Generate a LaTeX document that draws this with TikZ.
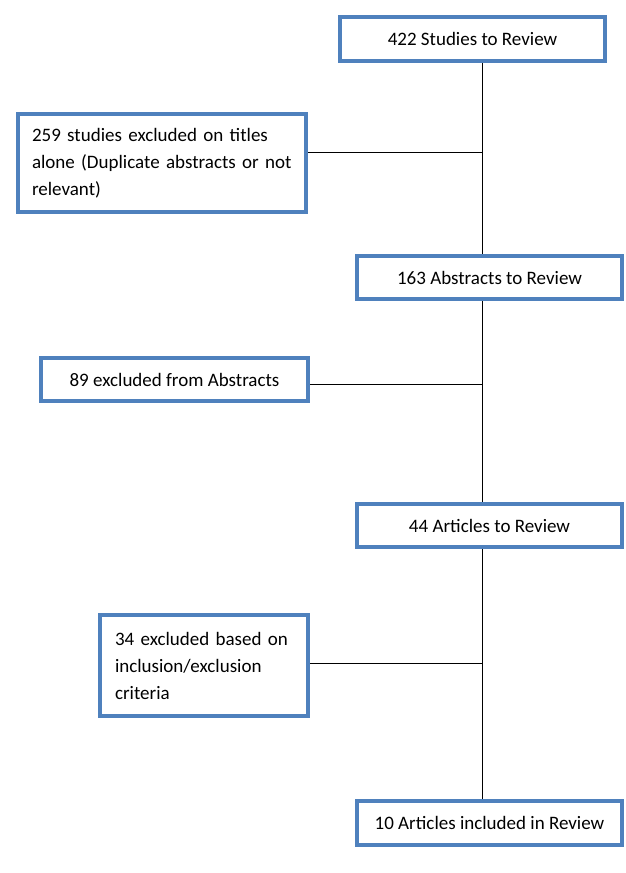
\documentclass[tikz,border=0pt]{standalone}
\usepackage{fontspec}
\setmainfont{Carlito}
\definecolor{boxblue}{HTML}{4F81BD}
\begin{document}
\begin{tikzpicture}[x=1pt,y=-1pt,
  flowbox/.style={draw=boxblue,line width=4pt,fill=white,rectangle,inner sep=0pt,
    font=\fontsize{19}{27}\selectfont},
  multibox/.style={flowbox,align=left},
  link/.style={draw=black,line width=1pt}]
\useasboundingbox (0,0) rectangle (625,873);
\coordinate (sp) at (482,0);
\node[flowbox,minimum width=265pt,minimum height=44pt] (top) at (472.5,39) {422 Studies to Review};
\node[multibox,minimum width=288pt,minimum height=98pt,text width=260pt] (b259) at (162,163) {259 studies excluded on titles\\alone (Duplicate abstracts or not\\relevant)};
\node[flowbox,minimum width=265pt,minimum height=43pt] (b163) at (489.5,277.5) {163 Abstracts to Review};
\node[flowbox,minimum width=267pt,minimum height=43pt] (b89) at (174.5,379.5) {89 excluded from Abstracts};
\node[flowbox,minimum width=265pt,minimum height=43pt] (b44) at (489.5,525.5) {44 Articles to Review};
\node[multibox,minimum width=208pt,minimum height=101pt,text width=178pt] (b34) at (204,665.5) {34 excluded based on\\inclusion/exclusion\\criteria};
\node[flowbox,minimum width=265pt,minimum height=44pt] (b10) at (489.5,823) {10 Articles included in Review};
\coordinate (h1) at (0,152);
\coordinate (h2) at (0,384);
\coordinate (h3) at (0,663);
\draw[link] (top.south -| sp) -- (b163.north -| sp);
\draw[link] (b163.south -| sp) -- (b44.north -| sp);
\draw[link] (b44.south -| sp) -- (b10.north -| sp);
\draw[link] (b259.east |- h1) -- (sp |- h1);
\draw[link] (b89.east |- h2) -- (sp |- h2);
\draw[link] (b34.east |- h3) -- (sp |- h3);
\end{tikzpicture}
\end{document}
